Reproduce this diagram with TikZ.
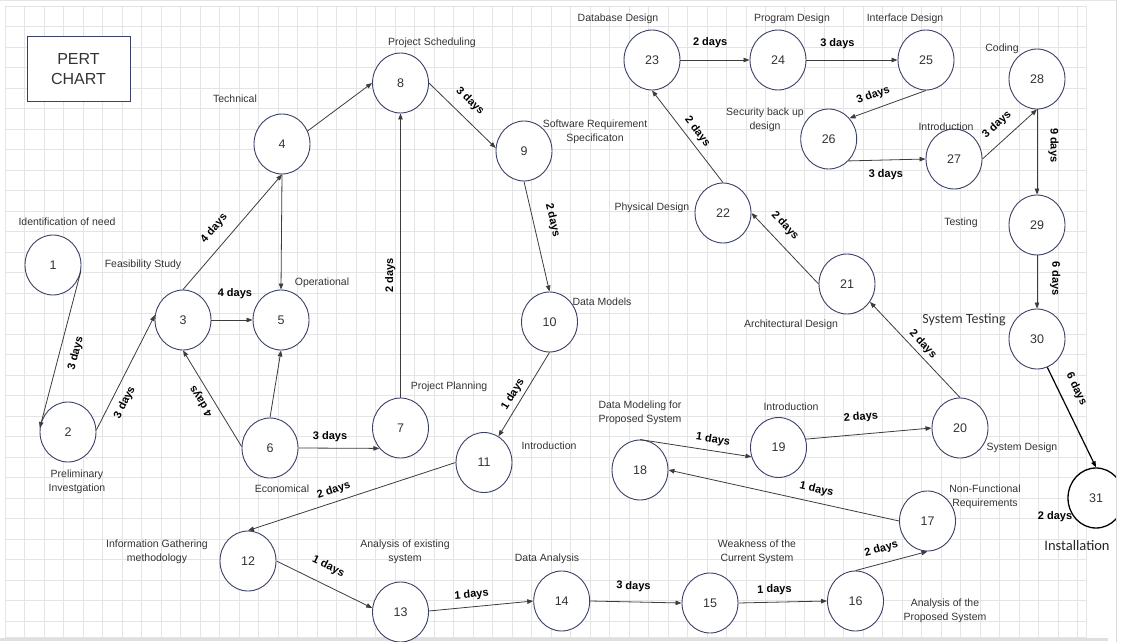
\documentclass[tikz,border=0pt]{standalone}
\usepackage{fontspec}
\setmainfont{Liberation Sans}
\newfontfamily\calfont{Carlito}
\usetikzlibrary{shapes.geometric,arrows.meta}
\definecolor{circline}{HTML}{3A4066}
\definecolor{txtgray}{HTML}{333333}
\definecolor{gridgray}{HTML}{E4E4E4}
\definecolor{edgegray}{HTML}{3C3C3C}

\begin{document}
\begin{tikzpicture}[x=1pt,y=-1pt,
  event/.style={ellipse,draw=circline,line width=0.9pt,fill=white,minimum width=56pt,minimum height=60pt,inner sep=0pt,font=\fontsize{12.5}{14}\selectfont,text=txtgray},
  act/.style={draw=edgegray,line width=0.8pt,-{Triangle[length=6pt,width=4.5pt]}},
  days/.style={font=\bfseries\fontsize{11}{13}\selectfont,inner sep=0pt,sloped},
  note/.style={font=\fontsize{10.5}{14.5}\selectfont,text=txtgray,align=center,inner sep=0pt},
  gridline/.style={gridgray,line width=0.7pt}]
\useasboundingbox (0,0) rectangle (1125,642);

% background grid
\foreach \i in {0,...,55} \draw[gridline] ({5+19.5*\i},6) -- ({5+19.5*\i},637);
\foreach \j in {0,...,30} \draw[gridline] (5,{6+20.5*\j}) -- (1086,{6+20.5*\j});
\draw[gridline] (5,6) rectangle (1086,637);
\draw[gray!20,line width=1pt] (0,1) -- (1116,1);
\draw[gray!25,line width=3pt] (0,639) -- (1108,639);

% title
\node[draw=circline,line width=1pt,fill=white,minimum width=103pt,minimum height=65pt,
      font=\fontsize{16}{20}\selectfont,text=txtgray,align=center] (title) at (78.5,69) {PERT\\CHART};

% events
\node[event] (n1) at (53,265) {1};
\node[event] (n2) at (68,432) {2};
\node[event] (n3) at (183,320) {3};
\node[event] (n4) at (282,144) {4};
\node[event] (n5) at (281,320) {5};
\node[event] (n6) at (270,448) {6};
\node[event] (n7) at (400.5,428) {7};
\node[event] (n8) at (400.5,83) {8};
\node[event] (n9) at (524,151) {9};
\node[event] (n10) at (549.5,322) {10};
\node[event] (n11) at (484,462.5) {11};
\node[event] (n12) at (248,561) {12};
\node[event] (n13) at (400.5,612) {13};
\node[event] (n14) at (561.7,601) {14};
\node[event] (n15) at (710,603) {15};
\node[event] (n16) at (855.5,601) {16};
\node[event] (n17) at (927.5,521) {17};
\node[event] (n18) at (640,470) {18};
\node[event] (n19) at (778.5,447.5) {19};
\node[event] (n20) at (960,428) {20};
\node[event] (n21) at (847,284) {21};
\node[event] (n22) at (723,213) {22};
\node[event] (n23) at (652,60) {23};
\node[event] (n24) at (778,60) {24};
\node[event] (n25) at (926,60) {25};
\node[event] (n26) at (828.7,139) {26};
\node[event] (n27) at (954,159) {27};
\node[event] (n28) at (1037,79) {28};
\node[event] (n29) at (1037,225) {29};
\node[event] (n30) at (1037,339) {30};
\node[event,draw=black,line width=1.3pt] (n31) at (1096,498) {31};

% activities
\draw[act] (n1.-12) -- node[days,pos=.5,below=10.5pt] {3 days} (n2.172);
\draw[act] (n2.4) -- node[days,pos=.29,below=7.5pt] {3 days} (n3.170);
\draw[act] (n3.north) -- node[days,pos=.44,above=10.8pt] {4 days} (n4.south);
\draw[act] (n4.south) -- (n5.north);
\draw[act] (n3.east) -- node[days,pos=.57,above=20.8pt] {4 days} (n5.west);
\draw[act] (n4.27) -- (n8.west);
\draw[act] (n6.north) -- (n5.south);
\draw[act] (n6.177) -- node[days,allow upside down,pos=.53,above=5.3pt] {4 days} (n3.south);
\draw[act] (n6.east) -- node[days,pos=.39,above=6pt] {3 days} (n7.224);
\draw[act] (n7.north) -- node[days,pos=.43,above=4.8pt] {2 days} (n8.south);
\draw[act] (n8.east) -- node[days,pos=.45,above=10.2pt] {3 days} (n9.174);
\draw[act] (n9.south) -- node[days,pos=.39,above=13.5pt] {2 days} (n10.north);
\draw[act] (n10.south) -- node[days,pos=.56,above=3.7pt] {1 days} (n11.61);
\draw[act] (n11.west) -- node[days,pos=.57,above=5.6pt] {2 days} (n12.north);
\draw[act] (n12.east) -- node[days,pos=.46,above=12pt] {1 days} (n13.172);
\draw[act] (n13.2) -- node[days,pos=.42,above=6.7pt] {1 days} (n14.west);
\draw[act] (n14.east) -- node[days,pos=.47,above=10pt] {3 days} (n15.west);
\draw[act] (n15.east) -- node[days,pos=.41,above=6.8pt] {1 days} (n16.west);
\draw[act] (n16.north) -- node[days,pos=.41,above=8.7pt] {2 days} (n17.south);
\draw[act] (n17.west) -- node[days,pos=.37,above=7.2pt] {1 days} (n18.east);
\draw[act] (n18.north) -- node[days,pos=.64,above=5.5pt] {1 days} (n19.199);
\draw[act] (n19.17) -- node[days,pos=.45,above=11.5pt] {2 days} (n20.west);
\draw[act] (n20.north) -- node[days,pos=.49,above=4pt] {2 days} (n21.-38);
\draw[act] (n21.west) -- node[days,pos=.67,above=10pt] {2 days} (n22.east);
\draw[act] (n22.north) -- node[days,pos=.48,above=5.2pt] {2 days} (n23.south);
\draw[act] (n23.east) -- node[days,pos=.43,above=11.8pt] {2 days} (n24.west);
\draw[act] (n24.east) -- node[days,pos=.34,above=10.5pt] {3 days} (n25.west);
\draw[act] (n25.south) -- node[days,pos=.63,above=7.8pt] {3 days} (n26.45);
\draw[act] (n26.-48) -- node[days,pos=.48,below=9.2pt] {3 days} (n27.west);
\draw[act] (n27.east) -- node[days,pos=.46,above=10.2pt] {3 days} (n28.south);
\draw[act] (n28.south) -- node[days,allow upside down,pos=.42,above=11pt] {9 days} (n29.north);
\draw[act] (n29.south) -- node[days,allow upside down,pos=.44,above=12.8pt] {6 days} (n30.north);
\draw[act,draw=black,line width=1.2pt] (n30.-70) -- node[days,pos=.29,above=10.8pt] {6 days} (n31.north);

% activity names
\node[note] (tIdent) at (67,222) {Identification of need};
\node[note] (tFeas) at (143,265) {Feasibility Study};
\node[note] (tTech) at (235,99) {Technical};
\node[note] (tOper) at (322,283) {Operational};
\node[note] (tEcon) at (282,489) {Economical};
\node[note] (tPrelim) at (77,482) {Preliminary\\Investgation};
\node[note] (tInfo) at (157,552) {Information Gathering\\methodology};
\node[note] (tPlan) at (449,387) {Project Planning};
\node[note] (tSched) at (432,43) {Project Scheduling};
\node[note] (tSRS) at (595,132) {Software Requirement\\Specificaton};
\node[note] (tModels) at (602,302) {Data Models};
\node[note] (tIntroA) at (549,446) {Introduction};
\node[note] (tAnaEx) at (405,552) {Analysis of existing\\system};
\node[note] (tDataAna) at (547,559) {Data Analysis};
\node[note] (tWeak) at (757,552) {Weakness of the\\Current System};
\node[note] (tAnaProp) at (945,611) {Analysis of the\\Proposed System};
\node[note] (tNonFunc) at (985,497) {Non-Functional\\Requirements};
\node[note] (tDMP) at (640,413) {Data Modeling for\\Proposed System};
\node[note] (tIntroB) at (791,407) {Introduction};
\node[note] (tSysDes) at (1022,448) {System Design};
\node[note] (tArch) at (791,325) {Architectural Design};
\node[note,font=\calfont\fontsize{14}{16}\selectfont] (tSysTest) at (964,320) {System Testing};
\node[note] (tPhys) at (652,208) {Physical Design};
\node[note] (tDB) at (618,19) {Database Design};
\node[note] (tProg) at (792,19) {Program Design};
\node[note] (tIface) at (905,19) {Interface Design};
\node[note] (tSec) at (765,120) {Security back up\\design};
\node[note] (tIntroC) at (946,127) {Introduction};
\node[note] (tCoding) at (1002,49) {Coding};
\node[note] (tTesting) at (961,223) {Testing};
\node[days] (d31) at (1055,517) {2 days};
\node[note,font=\calfont\fontsize{14.5}{16}\selectfont,text=black!85] (tInstall) at (1077,546) {Installation};

% right frame
\fill[white] (1116.5,0) rectangle (1125,642);
\draw[gray!30,line width=0.8pt] (1116,0) -- (1116,642);
\end{tikzpicture}
\end{document}
